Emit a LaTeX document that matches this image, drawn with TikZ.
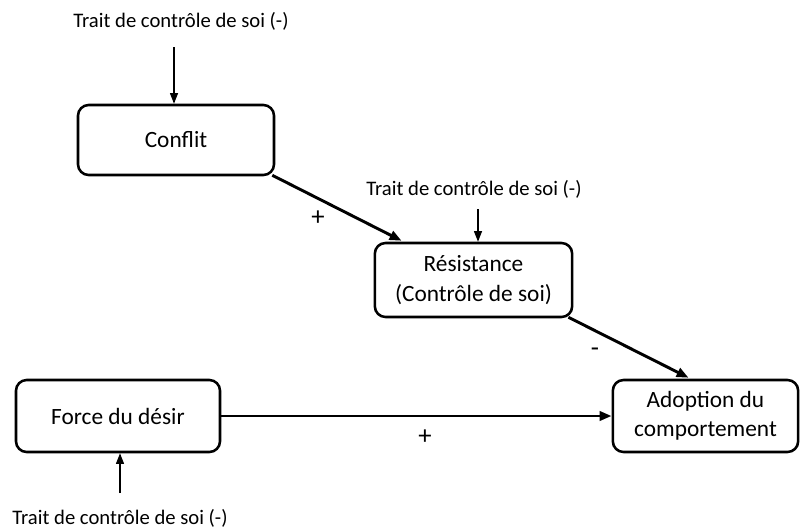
\documentclass[tikz,border=0pt]{standalone}
\usepackage{fontspec}
\setmainfont{Carlito}
\usetikzlibrary{arrows.meta,calc}
\begin{document}
\begin{tikzpicture}[x=0.75pt,y=-0.75pt,
  box/.style={draw,line width=1.9pt,rounded corners=8pt,align=center,inner sep=0pt,font=\fontsize{17.5}{22}\selectfont},
  lbl/.style={font=\fontsize{15.5}{18}\selectfont,inner sep=0pt},
  sign/.style={font=\fontsize{20}{22}\selectfont,inner sep=0pt},
  thinarr/.style={line width=0.9pt,-{Triangle[length=8pt,width=6pt]}},
  thickarr/.style={line width=2.2pt,-{Triangle[length=9pt,width=7pt]}}]
\useasboundingbox (0,0) rectangle (800,532);
\node[box,minimum width=147pt,minimum height=52.5pt] (conf) at (176,140) {Conflit};
\node[box,minimum width=148pt,minimum height=55.5pt] (res) at (473.5,280) {Résistance\\(Contrôle de soi)};
\node[box,minimum width=153pt,minimum height=54pt] (force) at (118,416) {Force du désir};
\node[box,minimum width=139pt,minimum height=54pt] (adop) at (705.5,416) {Adoption du\\comportement};
\node[lbl] (l1) at (181,21) {Trait de contrôle de soi (-)};
\node[lbl] (l2) at (474,189) {Trait de contrôle de soi (-)};
\node[lbl] (l3) at (120,518) {Trait de contrôle de soi (-)};
\coordinate (a1) at (174,47);
\coordinate (a2) at (478,209);
\coordinate (a3) at (120,493);
\draw[thinarr] (a1) -- (a1 |- conf.north);
\draw[thinarr] (a2) -- (a2 |- res.north);
\draw[thinarr] (a3) -- (a3 |- force.south);
\coordinate (c1s) at ($(conf.south east)+(-3,-1)$);
\coordinate (c1e) at ($(res.north west)+(28,-1)$);
\draw[thickarr] (c1s) -- (c1e);
\coordinate (c2s) at ($(res.south east)+(-5,-1)$);
\coordinate (c2e) at ($(adop.north west)+(77,-1)$);
\draw[thickarr] (c2s) -- (c2e);
\draw[thickarr] (force.east) -- (adop.west);
\node[sign] (p1) at (318,218) {+};
\node[sign] (m1) at (595,352) {-};
\node[sign] (p2) at (425,437) {+};
\end{tikzpicture}
\end{document}
